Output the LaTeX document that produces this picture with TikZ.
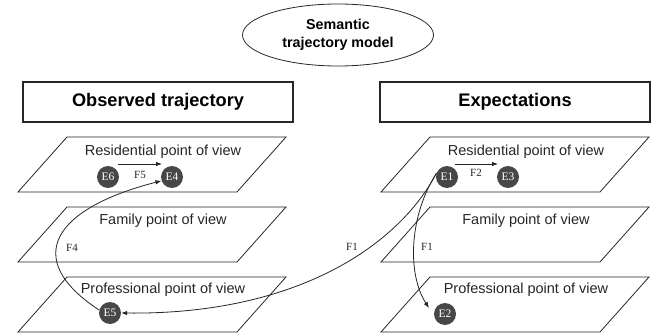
\documentclass[tikz,border=0pt]{standalone}
\usepackage{fontspec}
\setmainfont{Liberation Serif}
\setsansfont{Liberation Sans}
\usetikzlibrary{shapes.geometric,arrows.meta}
\begin{document}
\begin{tikzpicture}[x=1pt,y=1pt,
  planeline/.style={draw=black!85, line width=0.8pt},
  plabel/.style={font=\sffamily\fontsize{14.5}{16}\selectfont, text=black!85, inner sep=0pt},
  header/.style={draw=black!85, line width=1.2pt, minimum width=270pt, minimum height=40pt, font=\sffamily\bfseries\fontsize{18.2}{20}\selectfont, inner sep=0pt},
  evt/.style={circle, fill=black!72, text=white, minimum size=22pt, inner sep=0pt, font=\rmfamily\fontsize{11.5}{12}\selectfont},
  flabel/.style={font=\rmfamily\fontsize{11}{12}\selectfont, inner sep=0pt, text=black!85},
  conn/.style={-{Latex[length=6pt,width=4.5pt]}, line width=0.8pt, draw=black!85}
]
\useasboundingbox (0,0) rectangle (654,333);
\newcommand\myplane[2]{\draw[planeline] (#1,#2) -- ++(219,0) -- ++(49,55) -- ++(-219,0) -- cycle;}
% title ellipse
\node[ellipse, draw=black!85, line width=0.8pt, minimum width=191pt, minimum height=62pt, inner sep=0pt, align=center,
  font=\sffamily\bfseries\fontsize{14.3}{18}\selectfont] (model) at (338,298) {Semantic\\trajectory model};
% headers
\node[header] (obs) at (158,231) {Observed trajectory};
\node[header] (exp) at (515,231) {Expectations};
% planes
\myplane{18}{141}
\myplane{18}{71}
\myplane{18}{1}
\myplane{381}{141}
\myplane{381}{71}
\myplane{381}{1}
% plane labels
\node[plabel] (lres) at (163,181) {Residential point of view};
\node[plabel] (lfam) at (163,112) {Family point of view};
\node[plabel] (lpro) at (163,43) {Professional point of view};
\node[plabel] (rres) at (526,181) {Residential point of view};
\node[plabel] (rfam) at (526,112) {Family point of view};
\node[plabel] (rpro) at (526,43) {Professional point of view};
% events
\node[evt] (E6) at (108,156) {E6};
\node[evt] (E4) at (172,156) {E4};
\node[evt] (E5) at (110,20) {E5};
\node[evt] (E1) at (447,156) {E1};
\node[evt] (E3) at (508,156) {E3};
\node[evt] (E2) at (445,19) {E2};
% connectors
\draw[conn] ([xshift=10pt,yshift=13pt]E6.center) -- ([xshift=-10pt,yshift=13pt]E4.center);
\draw[conn] ([xshift=8pt,yshift=13pt]E1.center) -- ([xshift=-10pt,yshift=13pt]E3.center);
\draw[conn] (E5.165) .. controls (20,75) and (55,125) .. (E4.200);
\draw[conn] (E1.160) .. controls (400,90) and (300,18) .. (E5.east);
\draw[conn] (E1.160) .. controls (409,117) and (407,59) .. ([shift={(-16pt,6pt)}]E2.center);
% connector labels
\node[flabel] (f5) at (140,158) {F5};
\node[flabel] (f2) at (476,160) {F2};
\node[flabel] (f4) at (72,85) {F4};
\node[flabel] (f1a) at (352,86) {F1};
\node[flabel] (f1b) at (427,86) {F1};
\end{tikzpicture}
\end{document}
